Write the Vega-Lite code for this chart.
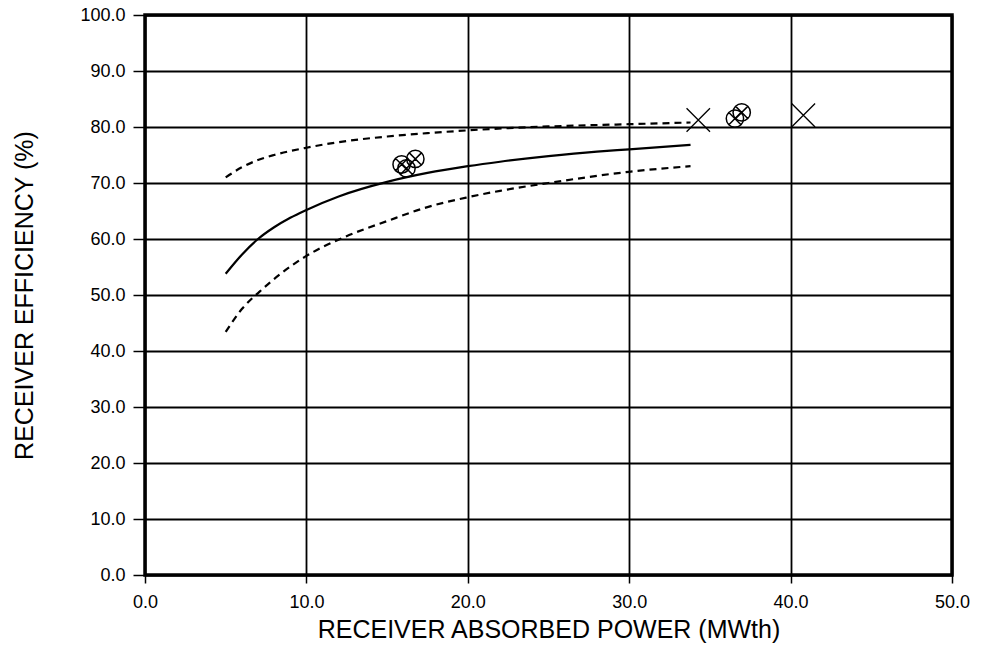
{
  "$schema": "https://vega.github.io/schema/vega-lite/v6.json",
  "width": 807,
  "height": 560,
  "autosize": {"type": "none"},
  "padding": {"left": 145, "top": 15, "right": 37, "bottom": 80},
  "background": "white",
  "config": {
    "view": {"stroke": "black", "strokeWidth": 3.5},
    "font": "Liberation Sans",
    "axis": {
      "labelFont": "Liberation Sans",
      "titleFont": "Liberation Sans",
      "labelColor": "black",
      "titleColor": "black",
      "titleFontWeight": "normal",
      "gridColor": "black",
      "gridOpacity": 1,
      "tickColor": "black",
      "domain": false
    }
  },
  "datasets": {
    "curves": [
      {"series": "fit", "x": 5, "y": 53.8}, {"series": "fit", "x": 6, "y": 57.2}, {"series": "fit", "x": 7, "y": 60}, {"series": "fit", "x": 8, "y": 62.1}, {"series": "fit", "x": 9, "y": 63.8}, {"series": "fit", "x": 10, "y": 65.2}, {"series": "fit", "x": 12, "y": 67.6}, {"series": "fit", "x": 15, "y": 70.2}, {"series": "fit", "x": 17.5, "y": 71.8}, {"series": "fit", "x": 20, "y": 73}, {"series": "fit", "x": 22, "y": 73.8}, {"series": "fit", "x": 25, "y": 74.8}, {"series": "fit", "x": 28, "y": 75.6}, {"series": "fit", "x": 30, "y": 76}, {"series": "fit", "x": 33.8, "y": 76.8},
      {"series": "upper", "x": 5, "y": 71}, {"series": "upper", "x": 6, "y": 72.8}, {"series": "upper", "x": 7, "y": 74.1}, {"series": "upper", "x": 8, "y": 75}, {"series": "upper", "x": 10, "y": 76.3}, {"series": "upper", "x": 12, "y": 77.3}, {"series": "upper", "x": 15, "y": 78.3}, {"series": "upper", "x": 17.5, "y": 78.9}, {"series": "upper", "x": 20, "y": 79.4}, {"series": "upper", "x": 22.5, "y": 79.8}, {"series": "upper", "x": 25, "y": 80.1}, {"series": "upper", "x": 30, "y": 80.5}, {"series": "upper", "x": 33.8, "y": 80.8},
      {"series": "lower", "x": 5, "y": 43.4}, {"series": "lower", "x": 6, "y": 47.5}, {"series": "lower", "x": 7.1, "y": 50.6}, {"series": "lower", "x": 8.5, "y": 54}, {"series": "lower", "x": 9.9, "y": 56.8}, {"series": "lower", "x": 12.4, "y": 60.4}, {"series": "lower", "x": 15, "y": 63.2}, {"series": "lower", "x": 17.5, "y": 65.7}, {"series": "lower", "x": 19.9, "y": 67.4}, {"series": "lower", "x": 22, "y": 68.6}, {"series": "lower", "x": 25, "y": 70}, {"series": "lower", "x": 30, "y": 72}, {"series": "lower", "x": 33.8, "y": 73}
    ],
    "points": [
      {"kind": "circlex", "x": 15.9, "y": 73.3},
      {"kind": "circlex", "x": 16.2, "y": 72.6},
      {"kind": "circlex", "x": 16.75, "y": 74.3},
      {"kind": "circlex", "x": 36.97, "y": 82.6},
      {"kind": "circlex", "x": 36.55, "y": 81.5},
      {"kind": "x", "x": 34.28, "y": 81.25},
      {"kind": "x", "x": 40.79, "y": 82.1}
    ]
  },
  "layer": [
    {
      "data": {"name": "curves"},
      "transform": [{"filter": "datum.series === 'fit'"}],
      "mark": {"type": "line", "color": "black", "strokeWidth": 2.2, "interpolate": "monotone"},
      "encoding": {
        "x": {
          "field": "x", "type": "quantitative",
          "scale": {"domain": [0, 50], "nice": false, "zero": false},
          "axis": {
            "title": "RECEIVER ABSORBED POWER (MWth)",
            "values": [0, 10, 20, 30, 40, 50],
            "format": ".1f",
            "labelFontSize": 18,
            "titleFontSize": 25,
            "tickSize": 8,
            "tickWidth": 1.5,
            "labelPadding": 10,
            "titlePadding": 6,
            "gridWidth": 1.8,
            "labelFlush": false
          }
        },
        "y": {
          "field": "y", "type": "quantitative",
          "scale": {"domain": [0, 100], "nice": false},
          "axis": {
            "title": "RECEIVER EFFICIENCY (%)",
            "values": [0, 10, 20, 30, 40, 50, 60, 70, 80, 90, 100],
            "format": ".1f",
            "labelFontSize": 18,
            "titleFontSize": 25,
            "tickSize": 12,
            "tickWidth": 1.5,
            "labelPadding": 8,
            "titlePadding": 42,
            "gridWidth": 2.2,
            "labelFlush": false
          }
        }
      }
    },
    {
      "data": {"name": "curves"},
      "transform": [{"filter": "datum.series === 'upper'"}],
      "mark": {"type": "line", "color": "black", "strokeWidth": 2.2, "strokeDash": [7, 5], "interpolate": "monotone"},
      "encoding": {
        "x": {"field": "x", "type": "quantitative"},
        "y": {"field": "y", "type": "quantitative"}
      }
    },
    {
      "data": {"name": "curves"},
      "transform": [{"filter": "datum.series === 'lower'"}],
      "mark": {"type": "line", "color": "black", "strokeWidth": 2.2, "strokeDash": [7, 5], "interpolate": "monotone"},
      "encoding": {
        "x": {"field": "x", "type": "quantitative"},
        "y": {"field": "y", "type": "quantitative"}
      }
    },
    {
      "data": {"name": "points"},
      "transform": [{"filter": "datum.kind === 'circlex'"}],
      "mark": {
        "type": "point",
        "shape": "M-1,0A1,1 0 1,1 1,0A1,1 0 1,1 -1,0M-0.7,-0.7L0.7,0.7M-0.7,0.7L0.7,-0.7",
        "filled": false,
        "color": "black",
        "strokeWidth": 1.5,
        "size": 300,
        "opacity": 1
      },
      "encoding": {
        "x": {"field": "x", "type": "quantitative"},
        "y": {"field": "y", "type": "quantitative"}
      }
    },
    {
      "data": {"name": "points"},
      "transform": [{"filter": "datum.kind === 'x'"}],
      "mark": {
        "type": "point",
        "shape": "M-1,-1L1,1M-1,1L1,-1",
        "filled": false,
        "color": "black",
        "strokeWidth": 1.3,
        "size": 550,
        "opacity": 1
      },
      "encoding": {
        "x": {"field": "x", "type": "quantitative"},
        "y": {"field": "y", "type": "quantitative"}
      }
    }
  ]
}
